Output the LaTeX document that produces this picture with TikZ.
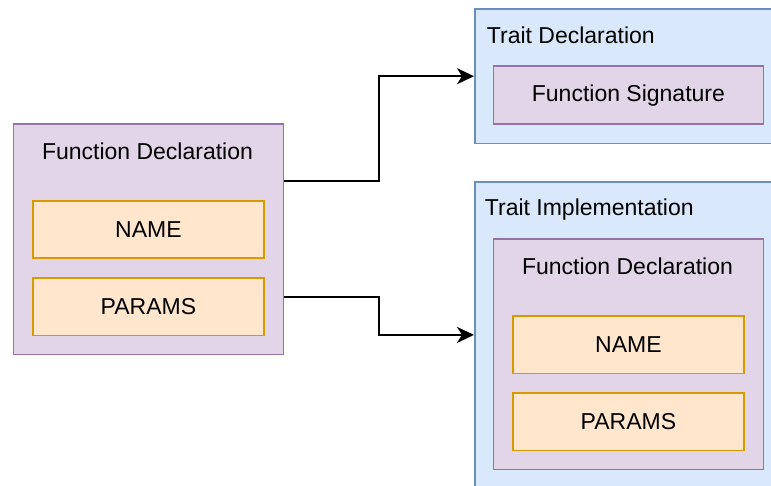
\documentclass[tikz,border=0pt]{standalone}
\usepackage{fontspec}
\setmainfont{Liberation Sans}
\usetikzlibrary{calc,arrows.meta}

\definecolor{fnFill}{HTML}{E1D5E7}
\definecolor{fnLine}{HTML}{9673A6}
\definecolor{fieldFill}{HTML}{FFE6CC}
\definecolor{fieldLine}{HTML}{D79B00}
\definecolor{traitFill}{HTML}{DAE8FC}
\definecolor{traitLine}{HTML}{6C8EBF}

\newcommand{\boxFont}{\fontsize{11.5pt}{13pt}\selectfont}
\newcommand{\fnTitle}{Function Declaration}

\tikzset{
	box/.style={rectangle, anchor=north west, line width=0.9pt, inner sep=0pt},
	fnbox/.style={box, draw=fnLine, fill=fnFill, minimum width=135pt, minimum height=115pt},
	fieldbox/.style={box, draw=fieldLine, fill=fieldFill, minimum width=115.5pt, minimum height=28.75pt, font=\boxFont},
	traitbox/.style={box, draw=traitLine, fill=traitFill, minimum width=153.5pt},
	title/.style={inner sep=0pt, font=\boxFont},
	link/.style={line width=1pt, -{Stealth[length=8.5pt, width=8pt, inset=2.5pt]}}
}

\begin{document}
\begin{tikzpicture}[x=0.5pt, y=-0.5pt]

		\clip (0,0) rectangle (771,486);

		% function declaration on the left
		\node[fnbox] (fnL) at (12.5,123.5) {};
		\node[title, anchor=base] (fnLTitle) at (147.5,159.3) {\fnTitle};
		\node[fieldbox] (nameL) at (32,200) {NAME};
		\node[fieldbox] (paramsL) at (32,277) {PARAMS};

		% trait declaration
		\node[traitbox, minimum height=67.3pt] (traitDecl) at (474,8) {};
		\node[title, anchor=base west] (traitDeclTitle) at (486.5,44) {Trait Declaration};
		\node[box, draw=fnLine, fill=fnFill, minimum width=135pt, minimum height=28.75pt, font=\boxFont] (fnSig) at (492.5,65.5) {Function Signature};

		% trait implementation
		\node[traitbox, minimum height=153pt] (traitImpl) at (474,181) {};
		\node[title, anchor=base west] (traitImplTitle) at (484.5,216) {Trait Implementation};

		% function declaration inside the implementation
		\node[fnbox] (fnR) at (492.5,238.5) {};
		\node[title, anchor=base] (fnRTitle) at (627.5,274.3) {\fnTitle};
		\node[fieldbox] (nameR) at (512,315) {NAME};
		\node[fieldbox] (paramsR) at (512,392) {PARAMS};

		% links
		\draw[link] ($(fnL.north east)!0.25!(fnL.south east)$) -- ++(95,0) |- (traitDecl.west);
		\draw[link] ($(fnL.north east)!0.75!(fnL.south east)$) -- ++(95,0) |- (traitImpl.west);

	\end{tikzpicture}
\end{document}
